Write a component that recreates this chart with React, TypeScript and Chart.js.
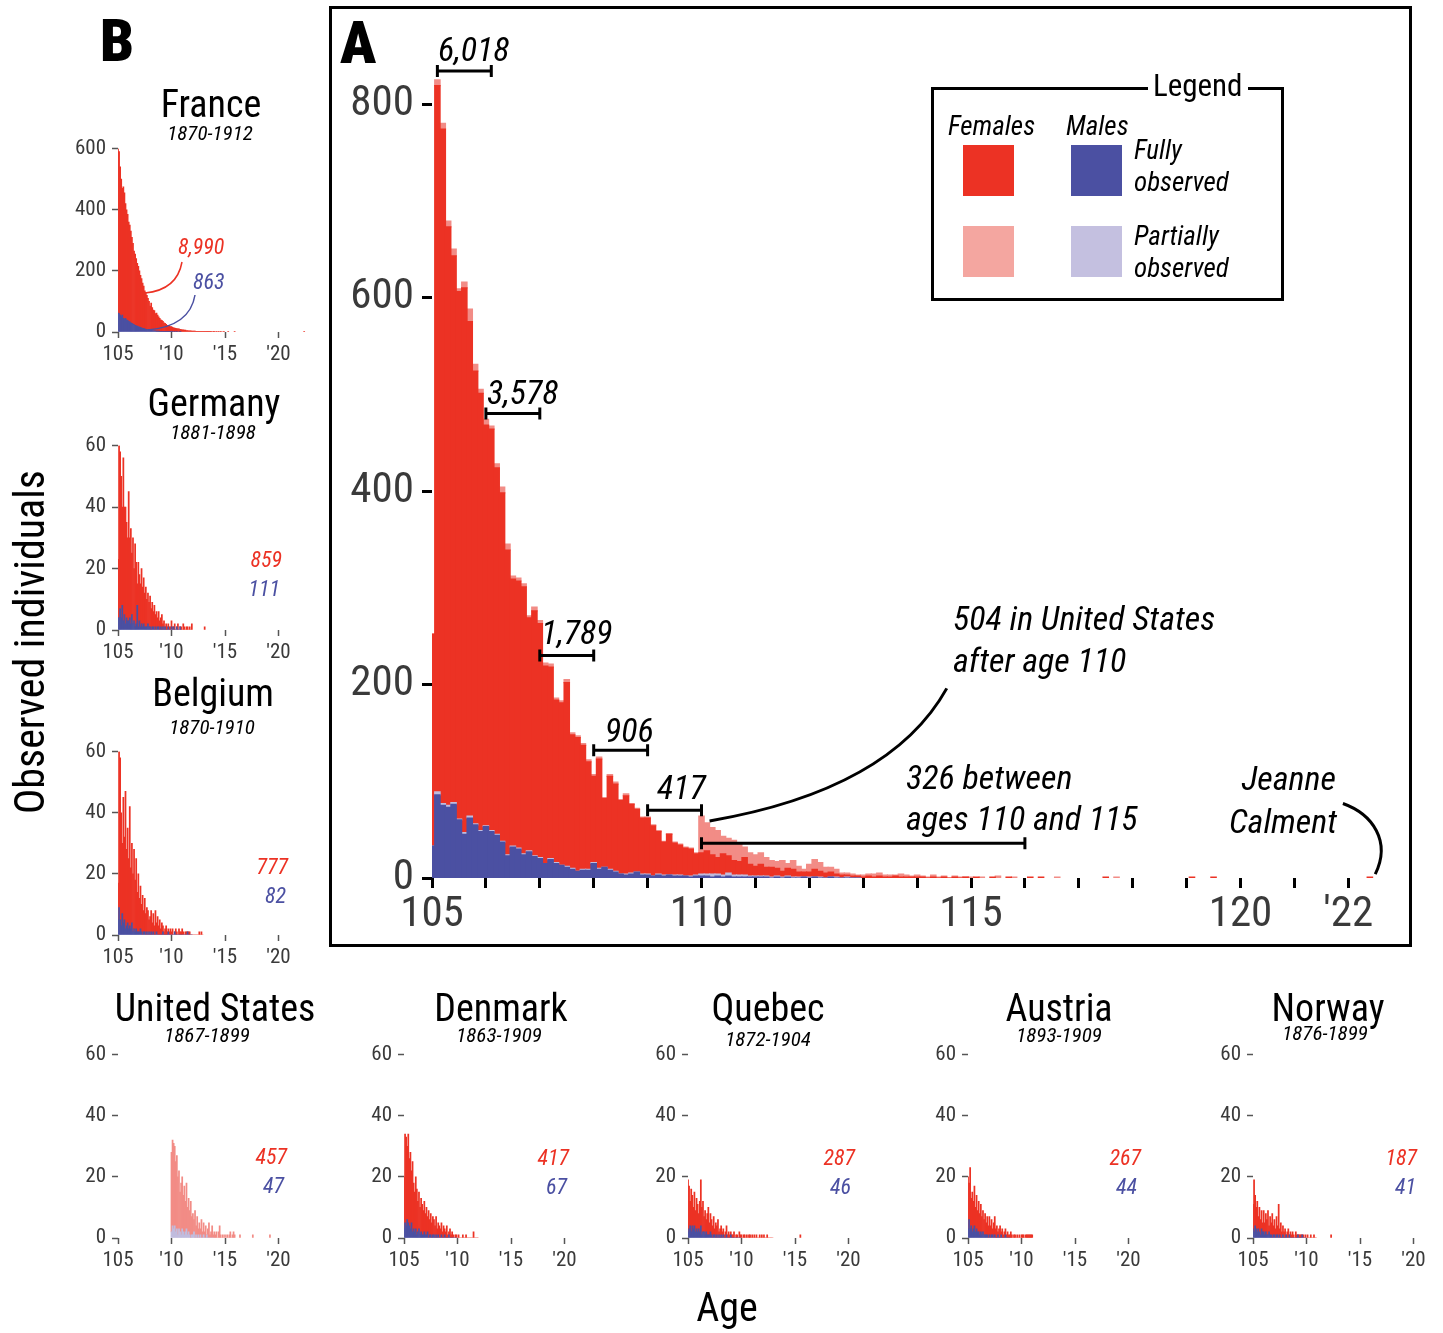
import React, { useEffect, useRef } from "react";
import { Chart, registerables } from "chart.js";
Chart.register(...registerables);

const FONT = "'Roboto Condensed', 'Liberation Sans Narrow', 'Arial Narrow', 'DejaVu Sans Condensed', Roboto, sans-serif";
const C_RED = "rgb(236,50,36)";
const C_PINK = "rgb(242,140,134)";
const C_BLUE = "rgb(75,80,162)";
const C_LAV = "rgb(192,188,222)";
const C_TICK = "#3a3a3a";

// ---------------- Main chart (A): 0.1-year bins from 105.0 ----------------
const mainMaleFull = [
  33, 86, 75, 73, 76, 60, 45, 62, 55, 48,
  53, 48, 44, 37, 23, 32, 30, 24, 27, 22,
  20, 15, 19, 15, 13, 11, 9, 7, 8, 8,
  15, 9, 11, 8, 6, 4, 3, 4, 6, 3,
  3, 2, 3, 2, 3, 2, 2, 2, 1, 2,
  2, 2, 1, 2, 1, 2, 1, 1, 1, 1,
  1, 1, 1, 0, 1, 0, 1, 0, 0, 1,
  0, 1, 0, 0, 1, 0, 0, 0, 0, 0,
];
const mainMalePartial = [
  0, 3, 2, 2, 2, 1, 2, 2, 1, 1,
  1, 1, 1, 1, 1, 1, 1, 1, 1, 1,
  1, 0, 1, 1, 0, 1, 1, 0, 1, 1,
  1, 1, 0, 1, 1, 0, 1, 1, 0, 1,
  1, 0, 1, 1, 0, 1, 1, 0, 1, 1,
  2, 2, 3, 2, 2, 3, 2, 2, 2, 1,
  1, 1, 1, 1, 1, 1, 1, 1, 1, 0,
  1, 0, 1, 0, 0, 1, 0, 1, 0, 0,
];
const mainFemaleFull = [
  219, 730, 697, 598, 565, 545, 563, 511, 468, 452,
  414, 415, 379, 360, 315, 276, 276, 276, 241, 253,
  242, 204, 198, 168, 168, 190, 138, 138, 128, 111,
  89, 113, 71, 96, 90, 76, 81, 71, 65, 58,
  58, 52, 44, 34, 42, 33, 31, 29, 28, 22,
  22, 24, 20, 17, 22, 18, 15, 14, 18, 12,
  10, 12, 9, 10, 8, 6, 8, 8, 5, 5,
  5, 8, 6, 5, 5, 3, 3, 2, 2, 2,
  1, 2, 1, 2, 1, 1, 2, 1, 1, 1,
  1, 1, 0, 1, 0, 1, 0, 1, 0, 1,
];
const mainFemalePartial = [
  0, 6, 6, 6, 7, 3, 6, 13, 7, 4,
  6, 3, 4, 6, 6, 3, 3, 3, 2, 4,
  3, 3, 3, 2, 2, 3, 2, 2, 2, 2,
  2, 2, 1, 2, 2, 1, 2, 1, 1, 1,
  1, 1, 1, 1, 1, 1, 1, 1, 1, 1,
  38, 29, 28, 28, 18, 18, 21, 19, 11, 12,
  12, 12, 10, 7, 7, 11, 5, 9, 6, 3,
  8, 10, 9, 6, 5, 5, 2, 2, 2, 1,
  2, 2, 3, 3, 2, 2, 1, 3, 2, 1,
  2, 1, 1, 2, 1, 1, 0, 1, 1, 0,
];
const mainTailAgesFull = [115.1, 115.4, 115.7, 116.1, 116.3, 117.5, 119.1, 119.5, 122.4];
const mainTailFull = [1, 1, 1, 1, 1, 1, 1, 1, 1];
const mainTailAgesPartial = [115.0, 115.2, 115.5, 115.8, 116.6, 117.7];
const mainTailPartial = [1, 1, 2, 1, 1, 1];

// bracket annotations (age range, height on y scale)
const bracketFrom = [105.1, 106.0, 107.0, 108.0, 109.0, 110.0];
const bracketTo = [106.1, 107.0, 108.0, 109.0, 110.0, 116.0];
const bracketLevel = [834, 480, 230, 132, 70, 36];

// ---------------- Small multiples (B): 0.1-year bins ----------------
const franceF = [
  538, 530, 485, 450, 415, 430, 413, 375, 360, 347,
  325, 317, 300, 282, 264, 241, 233, 220, 206, 197,
  184, 170, 161, 148, 138, 125, 121, 112, 102, 93,
  79, 89, 75, 67, 66, 56, 59, 52, 47, 43,
  38, 36, 33, 29, 27, 24, 21, 19, 19, 17,
  17, 14, 14, 12, 12, 10, 10, 10, 8, 8,
  7, 7, 6, 6, 5, 5, 4, 4, 4, 3,
  3, 3, 3, 2, 2, 2, 2, 2, 1, 2,
  1, 1, 1, 1, 1, 1, 1, 1, 0, 1,
  1, 0, 1, 0, 1, 0, 1, 0, 0, 1,
];
const franceM = [
  62, 60, 55, 50, 55, 45, 42, 45, 40, 38,
  35, 33, 30, 28, 26, 24, 22, 20, 19, 18,
  16, 15, 14, 12, 12, 10, 9, 8, 8, 7,
  6, 6, 5, 5, 4, 4, 3, 3, 3, 2,
  2, 2, 2, 1, 1, 1, 1, 1, 1, 1,
  1, 1, 0, 1, 0, 1, 0, 0, 1, 0,
];
const franceTailAges = [115.3, 115.9, 122.4];
const franceTailF = [1, 1, 1];

const germanyF = [
  19, 56, 51, 46, 32, 53, 35, 38, 31, 27,
  42, 26, 31, 20, 28, 17, 27, 20, 7, 21,
  15, 14, 18, 13, 15, 11, 13, 9, 10, 8,
  10, 7, 8, 5, 8, 4, 6, 3, 5, 3,
  3, 5, 1, 3, 0, 2, 1, 1, 1, 1,
  2, 1, 0, 2, 0, 0, 2, 0, 0, 1,
  0, 2, 1, 0, 1, 1, 0, 1, 0, 2,
];
const germanyM = [
  4, 4, 7, 4, 8, 3, 5, 2, 4, 3,
  3, 4, 2, 5, 2, 3, 1, 2, 8, 1,
  3, 1, 2, 1, 2, 1, 1, 1, 2, 1,
  1, 0, 1, 1, 0, 1, 0, 1, 1, 0,
  1, 0, 1, 0, 1, 0, 0, 1, 0, 0,
  1, 0, 1, 0, 0, 1, 0, 0, 1, 0,
];
const germanyTailAges = [113.1];
const germanyTailF = [1];

const belgiumF = [
  12, 51, 53, 37, 23, 41, 27, 45, 25, 31,
  23, 39, 20, 26, 19, 26, 17, 23, 13, 19,
  11, 14, 9, 13, 7, 11, 7, 8, 8, 4,
  6, 7, 4, 6, 3, 8, 3, 6, 3, 5,
  2, 4, 2, 1, 2, 3, 1, 1, 1, 2,
  1, 2, 0, 0, 2, 1, 0, 2, 1, 1,
  2, 1, 0, 1, 1, 0, 1, 1, 0, 0,
  0, 0, 0, 0, 0, 0, 1, 0, 1, 0,
];
const belgiumM = [
  5, 9, 5, 3, 7, 4, 5, 2, 3, 4,
  2, 3, 2, 4, 1, 2, 1, 2, 1, 1,
  1, 2, 1, 0, 1, 1, 0, 1, 0, 1,
  0, 1, 0, 1, 0, 0, 1, 0, 0, 0,
  0, 0, 1, 0, 0, 0, 0, 1, 0, 0,
  0, 0, 0, 1, 0, 0, 0, 0, 0, 0,
  0, 0, 0, 0, 0, 1, 0, 0, 0, 0,
];

// United States: partially observed only, from age 110
const usF = [
  26, 28, 28, 26, 23, 24, 19, 19, 13, 17,
  17, 12, 16, 10, 15, 9, 11, 8, 12, 6,
  7, 4, 9, 3, 7, 2, 5, 2, 6, 2,
  4, 2, 4, 0, 3, 5, 1, 2, 4, 1,
  2, 1, 2, 0, 2, 4, 1, 0, 1, 0,
  1, 0, 1, 0, 1, 2, 0, 1, 2, 1,
];
const usM = [
  2, 4, 3, 4, 2, 3, 1, 3, 2, 1,
  3, 2, 1, 2, 3, 1, 2, 1, 0, 1,
  1, 2, 0, 1, 0, 1, 0, 1, 0, 0,
  1, 0, 0, 1, 0, 0, 0, 0, 0, 0,
];
const usTailAges = [116.4, 117.6, 119.2];
const usTailF = [1, 1, 1];

const denmarkF = [
  17, 29, 29, 24, 29, 22, 25, 17, 23, 15,
  13, 17, 15, 10, 12, 9, 11, 10, 8, 10,
  7, 9, 5, 9, 5, 7, 5, 6, 5, 4,
  6, 3, 4, 4, 3, 4, 2, 4, 2, 2,
  4, 1, 1, 3, 1, 2, 1, 0, 1, 1,
  0, 1, 0, 0, 0, 1, 0, 0, 1, 0,
  0, 0, 0, 0, 0, 2, 0, 0, 0, 0,
];
const denmarkM = [
  3, 5, 4, 6, 5, 4, 3, 5, 2, 3,
  2, 3, 1, 2, 3, 1, 2, 1, 1, 2,
  1, 1, 2, 0, 1, 1, 0, 1, 1, 0,
  1, 0, 1, 0, 0, 1, 0, 0, 1, 0,
  0, 0, 1, 0, 0, 0, 0, 0, 0, 0,
];

const quebecF = [
  17, 14, 8, 14, 10, 7, 11, 7, 10, 9,
  5, 10, 15, 9, 10, 5, 8, 4, 7, 9,
  4, 6, 5, 4, 6, 2, 5, 3, 6, 1,
  3, 3, 2, 2, 1, 2, 3, 1, 2, 1,
  1, 1, 1, 2, 0, 1, 1, 0, 2, 1,
  1, 0, 1, 1, 0, 1, 0, 1, 1, 0,
  1, 0, 1, 0, 1, 0, 0, 1, 0, 1,
  0, 1, 0, 0, 1, 0, 0, 0, 0, 0,
];
const quebecM = [
  2, 3, 4, 2, 4, 3, 4, 2, 3, 2,
  3, 2, 4, 1, 2, 2, 1, 2, 1, 1,
  1, 2, 1, 0, 1, 1, 0, 1, 0, 1,
  0, 1, 0, 1, 0, 0, 1, 0, 0, 0,
  1, 0, 0, 0, 0, 0, 0, 0, 0, 0,
];
const quebecTailAges = [115.5];
const quebecTailF = [1];

const austriaF = [
  17, 12, 20, 9, 13, 9, 13, 8, 11, 7,
  10, 7, 9, 6, 7, 5, 7, 4, 6, 4,
  6, 4, 5, 2, 5, 6, 3, 4, 1, 3,
  4, 1, 3, 1, 2, 2, 1, 2, 1, 1,
  2, 1, 0, 1, 1, 0, 1, 0, 1, 0,
  1, 1, 1, 0, 1, 1, 1, 1, 1, 1,
  1,
];
const austriaM = [
  3, 6, 3, 4, 2, 3, 4, 2, 3, 2,
  2, 1, 2, 1, 2, 1, 1, 1, 1, 0,
  1, 0, 1, 1, 0, 1, 0, 0, 1, 0,
  0, 1, 0, 0, 0, 1, 0, 0, 0, 0,
];

const norwayF = [
  8, 17, 10, 7, 10, 4, 8, 5, 6, 3,
  7, 4, 6, 5, 8, 2, 6, 4, 8, 3,
  5, 3, 6, 3, 11, 2, 5, 2, 3, 2,
  3, 0, 2, 3, 0, 2, 1, 2, 1, 0,
  2, 1, 0, 1, 1, 1, 0, 1, 0, 1,
  0, 1, 0, 0, 1, 0, 0, 1, 0, 0,
];
const norwayM = [
  3, 2, 4, 3, 2, 3, 2, 1, 3, 2,
  2, 1, 2, 1, 1, 2, 1, 1, 0, 1,
  1, 0, 1, 1, 0, 1, 0, 0, 1, 0,
  0, 1, 0, 0, 1, 0, 0, 0, 0, 0,
  0, 0, 1, 0, 0, 0, 1, 0, 0, 0,
];
const norwayTailAges = [112.3];
const norwayTailF = [1];

// ---------------- helpers ----------------
function series(start: number, values: number[], color: string, tailAges: number[] = [], tailVals: number[] = [], inflate: any = "auto") {
  const s = Math.round(start * 10);
  const pts: { x: number; y: number }[] = values.map((v, i) => ({ x: (s + i) / 10, y: v }));
  tailAges.forEach((a, j) => pts.push({ x: a, y: tailVals[j] }));
  return {
    data: pts,
    backgroundColor: color,
    borderWidth: 0,
    barPercentage: 1,
    categoryPercentage: 1,
    inflateAmount: inflate,
    clip: 0,
    stack: "s",
  };
}

function ChartCanvas({ left, top, width, height, make }: any) {
  const ref = useRef<HTMLCanvasElement>(null);
  useEffect(() => {
    const chart = new Chart(ref.current as HTMLCanvasElement, make());
    return () => chart.destroy();
  }, []);
  return (
    <canvas
      ref={ref}
      width={width}
      height={height}
      style={{ position: "absolute", left, top, width, height }}
    />
  );
}

function Txt({ x, y, size, text, color = "#000", italic = false, weight = 400, align = "left", bg }: any) {
  const tx = align === "center" ? "-50%" : align === "right" ? "-100%" : "0";
  return (
    <div
      style={{
        position: "absolute",
        left: x,
        top: y - 0.85 * size,
        fontSize: size,
        lineHeight: `${size}px`,
        fontFamily: FONT,
        fontStyle: italic ? "italic" : "normal",
        fontWeight: weight,
        color,
        whiteSpace: "nowrap",
        transform: `translateX(${tx})`,
        background: bg,
        padding: bg ? "0 5px" : 0,
      }}
    >
      {text}
    </div>
  );
}

// ---------------- main chart ----------------
const MAIN = { left: 432, bottom: 878, pxYear: 53.9, pxUnit: 0.9675, xMax: 122.8, yMax: 850 };
const MAIN_CANVAS = { left: 330, top: 7, width: 1081, height: 939 };

const annoPlugin = {
  id: "mainAnno",
  afterDatasetsDraw(chart: any) {
    const { ctx, scales } = chart;
    const x = scales.x, y = scales.y;
    ctx.save();
    ctx.strokeStyle = "#000";
    ctx.lineWidth = 3;
    ctx.lineCap = "butt";
    bracketFrom.forEach((f, i) => {
      const x0 = x.getPixelForValue(f), x1 = x.getPixelForValue(bracketTo[i]);
      const yy = y.getPixelForValue(bracketLevel[i]);
      ctx.beginPath();
      ctx.moveTo(x0, yy); ctx.lineTo(x1, yy);
      ctx.moveTo(x0, yy - 6); ctx.lineTo(x0, yy + 6);
      ctx.moveTo(x1, yy - 6); ctx.lineTo(x1, yy + 6);
      ctx.stroke();
    });
    // leader to "504 in United States after age 110"
    ctx.beginPath();
    ctx.moveTo(x.getPixelForValue(110.15), y.getPixelForValue(59));
    ctx.quadraticCurveTo(x.getPixelForValue(113.5), y.getPixelForValue(91), x.getPixelForValue(114.55), y.getPixelForValue(196));
    ctx.stroke();
    // leader to Jeanne Calment
    ctx.beginPath();
    ctx.moveTo(x.getPixelForValue(121.9), y.getPixelForValue(77));
    ctx.bezierCurveTo(
      x.getPixelForValue(122.45), y.getPixelForValue(66),
      x.getPixelForValue(122.8), y.getPixelForValue(38),
      x.getPixelForValue(122.5), y.getPixelForValue(4)
    );
    ctx.stroke();
    ctx.restore();
  },
};

function makeMain() {
  const areaW = (MAIN.xMax - 105) * MAIN.pxYear;
  const areaH = MAIN.yMax * MAIN.pxUnit;
  const l = MAIN.left - MAIN_CANVAS.left;
  const t = MAIN.bottom - areaH - MAIN_CANVAS.top;
  const r = MAIN_CANVAS.width - l - areaW;
  const b = MAIN_CANVAS.height - t - areaH;
  return {
    type: "bar",
    data: {
      datasets: [
        series(105, mainMaleFull, C_BLUE, [], [], 0.6),
        series(105, mainMalePartial, C_LAV, [], [], 0.6),
        series(105, mainFemaleFull, C_RED, mainTailAgesFull, mainTailFull, 0.6),
        series(105, mainFemalePartial, C_PINK, mainTailAgesPartial, mainTailPartial, 0.6),
      ],
    },
    options: {
      responsive: false,
      animation: false,
      devicePixelRatio: 1,
      events: [],
      layout: { padding: { top: t, right: r, left: 0, bottom: 0 } },
      plugins: { legend: { display: false }, tooltip: { enabled: false } },
      scales: {
        x: {
          type: "linear", min: 105, max: MAIN.xMax, offset: false, stacked: true,
          border: { display: false },
          grid: { drawOnChartArea: false, drawTicks: true, tickLength: 10, tickWidth: 3, tickColor: "#000", offset: false },
          ticks: {
            stepSize: 1, autoSkip: false, maxRotation: 0, includeBounds: false, padding: 1,
            color: C_TICK, font: { family: FONT, size: 43 },
            callback: (v: number) => ([105, 110, 115, 120].includes(v) ? String(v) : v === 122 ? "'22" : ""),
          },
          afterFit: (s: any) => { s.height = b; },
        },
        y: {
          type: "linear", min: 0, max: MAIN.yMax, stacked: true,
          border: { display: false },
          grid: { drawOnChartArea: false, drawTicks: true, tickLength: 10, tickWidth: 3, tickColor: "#000" },
          ticks: { stepSize: 200, includeBounds: false, padding: 8, color: C_TICK, font: { family: FONT, size: 43 } },
          afterFit: (s: any) => { s.width = l; },
        },
      },
    },
    plugins: [annoPlugin],
  };
}

// ---------------- small chart ----------------
const SM = { pxYear: 10.7, xMax: 123, l: 62, t: 14, b: 36 };

function SmallChart({ left, top, bottom, yMax, yStep, start, female, male, partial, tailAges, tailF }: any) {
  const areaW = (SM.xMax - 105) * SM.pxYear;
  const areaH = bottom - top;
  const width = Math.ceil(SM.l + areaW + 6);
  const height = Math.round(SM.t + areaH + SM.b);
  const r = width - SM.l - areaW;
  const make = () => ({
    type: "bar",
    data: {
      datasets: [
        series(start, male, partial ? C_LAV : C_BLUE),
        series(start, female, partial ? C_PINK : C_RED, tailAges || [], tailF || []),
      ],
    },
    options: {
      responsive: false,
      animation: false,
      devicePixelRatio: 1,
      events: [],
      layout: { padding: { top: SM.t, right: r, left: 0, bottom: 0 } },
      plugins: { legend: { display: false }, tooltip: { enabled: false } },
      scales: {
        x: {
          type: "linear", min: 105, max: SM.xMax, offset: false, stacked: true,
          border: { display: false },
          grid: { drawOnChartArea: false, drawTicks: true, tickLength: 6, tickWidth: 1.5, tickColor: "#555", offset: false },
          ticks: {
            stepSize: 5, autoSkip: false, maxRotation: 0, includeBounds: false, padding: 4,
            color: C_TICK, font: { family: FONT, size: 21 },
            callback: (v: number) => (v === 105 ? "105" : "'" + String(v).slice(-2)),
          },
          afterFit: (s: any) => { s.height = SM.b; },
        },
        y: {
          type: "linear", min: 0, max: yMax, stacked: true,
          border: { display: false },
          grid: { drawOnChartArea: false, drawTicks: true, tickLength: 6, tickWidth: 1.5, tickColor: "#555" },
          ticks: { stepSize: yStep, includeBounds: false, padding: 6, color: C_TICK, font: { family: FONT, size: 21 } },
          afterFit: (s: any) => { s.width = SM.l; },
        },
      },
    },
  });
  return <ChartCanvas left={left - SM.l} top={top - SM.t} width={width} height={height} make={make} />;
}

const ROW_TOP = 1050, ROW_BOTTOM = 1238;

export default function App() {
  return (
    <div
      style={{
        position: "absolute", left: 0, top: 0, width: 1443, height: 1333,
        overflow: "hidden", background: "#fff", fontFamily: FONT,
      }}
    >
      {/* Panel A frame */}
      <div style={{ position: "absolute", left: 329, top: 6, width: 1083, height: 941, border: "3px solid #000", boxSizing: "border-box" }} />
      <ChartCanvas left={MAIN_CANVAS.left} top={MAIN_CANVAS.top} width={MAIN_CANVAS.width} height={MAIN_CANVAS.height} make={makeMain} />

      {/* Legend */}
      <div style={{ position: "absolute", left: 931, top: 87, width: 353, height: 214, border: "3px solid #000", boxSizing: "border-box" }} />
      <Txt x={1148} y={96} size={31} text="Legend" bg="#fff" />
      <Txt x={948} y={136} size={27} italic text="Females" />
      <Txt x={1066} y={136} size={27} italic text="Males" />
      <div style={{ position: "absolute", left: 963, top: 145, width: 51, height: 51, background: C_RED }} />
      <div style={{ position: "absolute", left: 1071, top: 145, width: 51, height: 51, background: C_BLUE }} />
      <div style={{ position: "absolute", left: 963, top: 226, width: 51, height: 51, background: "rgb(244,166,160)" }} />
      <div style={{ position: "absolute", left: 1071, top: 226, width: 51, height: 51, background: "rgb(196,192,224)" }} />
      <Txt x={1134} y={160} size={27} italic text="Fully" />
      <Txt x={1134} y={192} size={27} italic text="observed" />
      <Txt x={1134} y={246} size={27} italic text="Partially" />
      <Txt x={1134} y={278} size={27} italic text="observed" />

      {/* Panel letters */}
      <Txt x={100} y={62} size={60} weight={900} text="B" />
      <Txt x={340} y={64} size={60} weight={900} text="A" />

      {/* Main chart annotations */}
      <Txt x={438} y={61} size={34} italic text="6,018" />
      <Txt x={487} y={404} size={34} italic text="3,578" />
      <Txt x={541} y={644} size={34} italic text="1,789" />
      <Txt x={605} y={742} size={34} italic text="906" />
      <Txt x={657} y={799} size={34} italic text="417" />
      <Txt x={953} y={630} size={34} italic text="504 in United States" />
      <Txt x={953} y={672} size={34} italic text="after age 110" />
      <Txt x={906} y={789} size={34} italic text="326 between" />
      <Txt x={906} y={830} size={34} italic text="ages 110 and 115" />
      <Txt x={1336} y={790} size={34} italic align="right" text="Jeanne" />
      <Txt x={1337} y={833} size={34} italic align="right" text="Calment" />

      {/* Small multiples */}
      <SmallChart left={118} top={144} bottom={332} yMax={600} yStep={200} start={105} female={franceF} male={franceM} tailAges={franceTailAges} tailF={franceTailF} />
      <SmallChart left={118} top={441} bottom={630} yMax={60} yStep={20} start={105} female={germanyF} male={germanyM} tailAges={germanyTailAges} tailF={germanyTailF} />
      <SmallChart left={118} top={747} bottom={935} yMax={60} yStep={20} start={105} female={belgiumF} male={belgiumM} />
      <SmallChart left={118} top={ROW_TOP} bottom={ROW_BOTTOM} yMax={60} yStep={20} start={110} female={usF} male={usM} partial tailAges={usTailAges} tailF={usTailF} />
      <SmallChart left={404} top={ROW_TOP} bottom={ROW_BOTTOM} yMax={60} yStep={20} start={105} female={denmarkF} male={denmarkM} />
      <SmallChart left={688} top={ROW_TOP} bottom={ROW_BOTTOM} yMax={60} yStep={20} start={105} female={quebecF} male={quebecM} tailAges={quebecTailAges} tailF={quebecTailF} />
      <SmallChart left={968} top={ROW_TOP} bottom={ROW_BOTTOM} yMax={60} yStep={20} start={105} female={austriaF} male={austriaM} />
      <SmallChart left={1253} top={ROW_TOP} bottom={ROW_BOTTOM} yMax={60} yStep={20} start={105} female={norwayF} male={norwayM} tailAges={norwayTailAges} tailF={norwayTailF} />

      {/* France leader lines */}
      <svg width={1443} height={1333} style={{ position: "absolute", left: 0, top: 0, pointerEvents: "none" }}>
        <path d="M 182 262 Q 177 290 145 293" stroke={C_RED} strokeWidth={1.5} fill="none" />
        <path d="M 195 295 Q 190 326 148 330" stroke={C_BLUE} strokeWidth={1.5} fill="none" />
      </svg>

      {/* Titles */}
      <Txt x={211} y={117} size={38} align="center" text="France" />
      <Txt x={210} y={141} size={21} italic align="center" text="1870-1912" />
      <Txt x={214} y={416} size={38} align="center" text="Germany" />
      <Txt x={213} y={440} size={21} italic align="center" text="1881-1898" />
      <Txt x={213} y={706} size={38} align="center" text="Belgium" />
      <Txt x={212} y={735} size={21} italic align="center" text="1870-1910" />
      <Txt x={215} y={1021} size={38} align="center" text="United States" />
      <Txt x={207} y={1043} size={21} italic align="center" text="1867-1899" />
      <Txt x={501} y={1021} size={38} align="center" text="Denmark" />
      <Txt x={499} y={1043} size={21} italic align="center" text="1863-1909" />
      <Txt x={768} y={1021} size={38} align="center" text="Quebec" />
      <Txt x={768} y={1047} size={21} italic align="center" text="1872-1904" />
      <Txt x={1059} y={1021} size={38} align="center" text="Austria" />
      <Txt x={1059} y={1043} size={21} italic align="center" text="1893-1909" />
      <Txt x={1328} y={1021} size={38} align="center" text="Norway" />
      <Txt x={1325} y={1041} size={21} italic align="center" text="1876-1899" />

      {/* Counts */}
      <Txt x={178} y={255} size={22} italic color={C_RED} text="8,990" />
      <Txt x={193} y={290} size={22} italic color={C_BLUE} text="863" />
      <Txt x={282} y={568} size={22} italic color={C_RED} align="right" text="859" />
      <Txt x={280} y={597} size={22} italic color={C_BLUE} align="right" text="111" />
      <Txt x={288} y={875} size={22} italic color={C_RED} align="right" text="777" />
      <Txt x={286} y={904} size={22} italic color={C_BLUE} align="right" text="82" />
      <Txt x={287} y={1165} size={22} italic color={C_RED} align="right" text="457" />
      <Txt x={284} y={1194} size={22} italic color={C_BLUE} align="right" text="47" />
      <Txt x={569} y={1166} size={22} italic color={C_RED} align="right" text="417" />
      <Txt x={567} y={1195} size={22} italic color={C_BLUE} align="right" text="67" />
      <Txt x={855} y={1166} size={22} italic color={C_RED} align="right" text="287" />
      <Txt x={851} y={1195} size={22} italic color={C_BLUE} align="right" text="46" />
      <Txt x={1141} y={1166} size={22} italic color={C_RED} align="right" text="267" />
      <Txt x={1137} y={1195} size={22} italic color={C_BLUE} align="right" text="44" />
      <Txt x={1417} y={1166} size={22} italic color={C_RED} align="right" text="187" />
      <Txt x={1416} y={1195} size={22} italic color={C_BLUE} align="right" text="41" />

      {/* Axis titles */}
      <div
        style={{
          position: "absolute", left: 30, top: 642, fontFamily: FONT, fontSize: 42, lineHeight: "42px",
          whiteSpace: "nowrap", transform: "translate(-50%, -50%) rotate(-90deg)", color: "#000",
        }}
      >
        Observed individuals
      </div>
      <Txt x={727} y={1322} size={40} align="center" text="Age" />
    </div>
  );
}
